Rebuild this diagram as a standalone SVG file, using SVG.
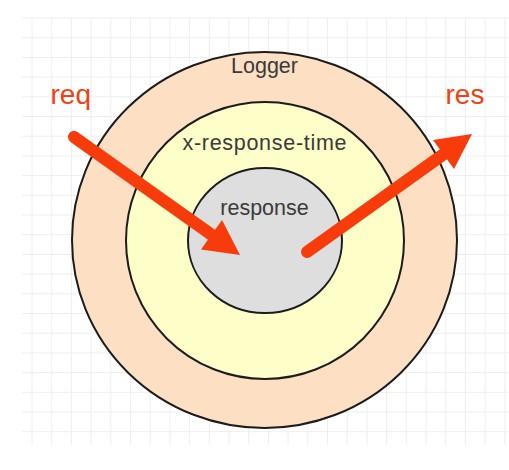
<svg xmlns="http://www.w3.org/2000/svg" width="509" height="470" viewBox="0 0 509 470">
  <style>
    .grid { stroke: #eeeeee; stroke-width: 1; fill: none; }
    .ring { stroke: #1c1c1c; stroke-width: 2; }
    .label { font-family: "Liberation Sans", Arial, Helvetica, sans-serif; font-size: 21.5px; fill: #3a3a3a; text-anchor: middle; }
    .flowlabel { font-family: "Liberation Sans", Arial, Helvetica, sans-serif; font-size: 28px; fill: #f2400f; }
    .shaft { stroke: #f73b0b; stroke-width: 12; stroke-linecap: round; fill: none; }
    .head { fill: #f73b0b; }
  </style>
  <rect width="509" height="470" fill="#ffffff"/>
  <g id="grid">
    <path class="grid" d="M32,18V445 M51.7,18V445 M71.4,18V445 M91.1,18V445 M110.8,18V445 M130.5,18V445 M150.2,18V445 M169.9,18V445 M189.6,18V445 M209.3,18V445 M229,18V445 M248.7,18V445 M268.4,18V445 M288.1,18V445 M307.8,18V445 M327.5,18V445 M347.2,18V445 M366.9,18V445 M386.6,18V445 M406.3,18V445 M426,18V445 M445.7,18V445 M465.4,18V445 M485.1,18V445 M504.8,18V445 M22,18H509 M22,37.7H509 M22,57.4H509 M22,77.1H509 M22,96.8H509 M22,116.5H509 M22,136.2H509 M22,155.9H509 M22,175.6H509 M22,195.3H509 M22,215H509 M22,234.7H509 M22,254.4H509 M22,274.1H509 M22,293.8H509 M22,313.5H509 M22,333.2H509 M22,352.9H509 M22,372.6H509 M22,392.3H509 M22,412H509 M22,431.7H509"/>
  </g>
  <g id="logger">
    <ellipse class="ring" cx="264.5" cy="240" rx="192.5" ry="188" fill="#fde0c4"/>
    <text class="label" x="264.5" y="73">Logger</text>
  </g>
  <g id="x-response-time">
    <ellipse class="ring" cx="265" cy="240.5" rx="139" ry="138.5" fill="#fefec9"/>
    <text class="label" x="264.5" y="150" textLength="164" lengthAdjust="spacing">x-response-time</text>
  </g>
  <g id="response">
    <ellipse class="ring" cx="265" cy="240.5" rx="77" ry="72.5" fill="#dedede"/>
    <text class="label" x="264.5" y="215">response</text>
  </g>
  <g id="connectors">
    <g id="req-arrow">
      <line class="shaft" x1="74" y1="137" x2="214" y2="236.5"/>
      <polygon class="head" points="240,255 222,220 201,249.5"/>
      <text class="flowlabel" x="50.5" y="103.5">req</text>
    </g>
    <g id="res-arrow">
      <line class="shaft" x1="307" y1="252" x2="446" y2="152.5"/>
      <polygon class="head" points="472,134 433,140 454,169"/>
      <text class="flowlabel" x="445.5" y="103.5">res</text>
    </g>
  </g>
</svg>
